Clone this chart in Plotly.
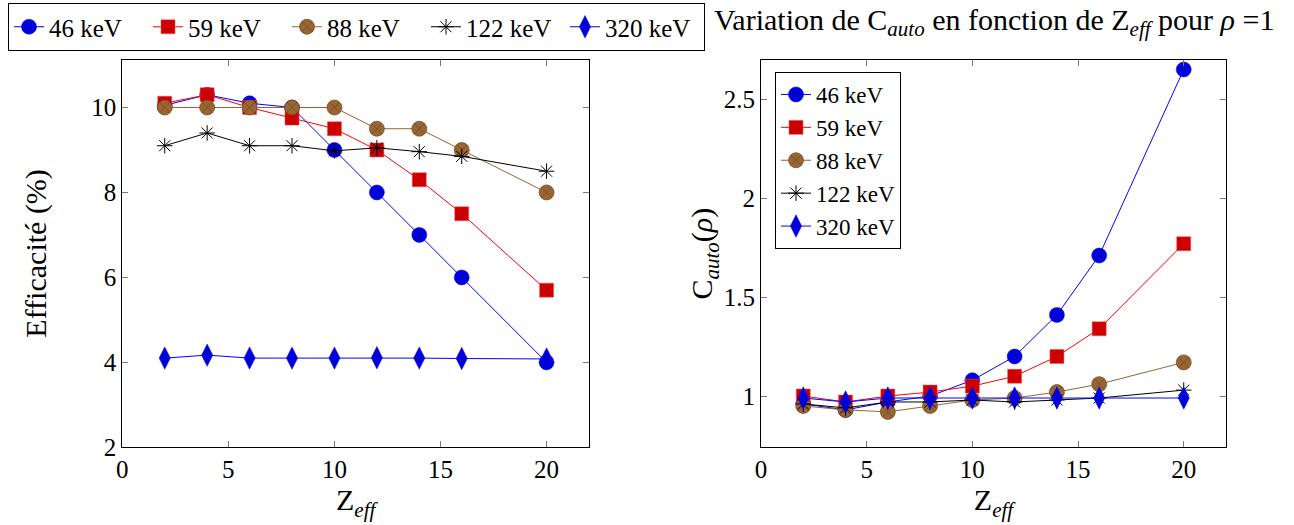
import plotly.graph_objects as go

# ---- data ----
zeff = [2, 4, 6, 8, 10, 12, 14, 16, 20]
energies = ["46 keV", "59 keV", "88 keV", "122 keV", "320 keV"]

eff_46 = [10.05, 10.3, 10.1, 10.0, 9.0, 8.0, 7.0, 6.0, 4.0]
eff_59 = [10.1, 10.3, 10.0, 9.75, 9.5, 9.0, 8.3, 7.5, 5.7]
eff_88 = [10.0, 10.0, 10.0, 10.0, 10.0, 9.5, 9.5, 9.0, 8.0]
eff_122 = [9.1, 9.4, 9.1, 9.1, 8.98, 9.05, 8.96, 8.85, 8.5]
eff_320 = [4.1, 4.17, 4.1, 4.1, 4.1, 4.11, 4.1, 4.09, 4.08]

cauto_46 = [0.96, 0.93, 0.97, 1.0, 1.08, 1.2, 1.41, 1.71, 2.65]
cauto_59 = [1.0, 0.97, 1.0, 1.02, 1.05, 1.1, 1.2, 1.34, 1.77]
cauto_88 = [0.95, 0.93, 0.92, 0.95, 0.98, 0.99, 1.02, 1.06, 1.17]
cauto_122 = [0.96, 0.94, 0.97, 0.97, 0.98, 0.97, 0.98, 0.99, 1.03]
cauto_320 = [0.99, 0.97, 0.99, 0.99, 0.99, 0.99, 0.99, 0.99, 0.99]

xticks = [0, 5, 10, 15, 20]
yticks_left = [2, 4, 6, 8, 10]
yticks_right = [1, 1.5, 2, 2.5]

FONT = "Liberation Serif"
FS = 25

styles = [
    dict(line=dict(color="rgb(0,0,255)", width=1),
         marker=dict(symbol="circle", size=15, color="rgb(0,0,215)",
                     line=dict(color="rgb(0,0,255)", width=0.5))),
    dict(line=dict(color="rgb(255,0,0)", width=1),
         marker=dict(symbol="square", size=14, color="rgb(204,0,0)",
                     line=dict(color="rgb(255,80,80)", width=0.5))),
    dict(line=dict(color="rgb(153,102,51)", width=1),
         marker=dict(symbol="circle-x", size=15, color="rgb(153,102,51)",
                     line=dict(color="rgb(110,70,30)", width=0.7))),
    dict(line=dict(color="black", width=1),
         marker=dict(symbol="asterisk-open", size=13, color="black",
                     line=dict(color="black", width=1))),
    dict(line=dict(color="rgb(0,0,255)", width=1),
         marker=dict(symbol="diamond-tall", size=16, color="rgb(0,0,215)",
                     line=dict(color="rgb(0,0,255)", width=0.5))),
]

left_series = [eff_46, eff_59, eff_88, eff_122, eff_320]
right_series = [cauto_46, cauto_59, cauto_88, cauto_122, cauto_320]

fig = go.Figure()
for name, ys, st in zip(energies, left_series, styles):
    fig.add_trace(go.Scatter(x=zeff, y=ys, mode="lines+markers", name=name,
                             xaxis="x", yaxis="y", legend="legend", **st))
for name, ys, st in zip(energies, right_series, styles):
    fig.add_trace(go.Scatter(x=zeff, y=ys, mode="lines+markers", name=name,
                             xaxis="x2", yaxis="y2", legend="legend2", **st))

W, H = 1294, 525
ax_common = dict(showgrid=False, zeroline=False, showline=True, linecolor="black",
                 linewidth=1, mirror="ticks", ticks="inside", ticklen=6,
                 tickcolor="rgb(120,120,120)", automargin=False,
                 tickfont=dict(family=FONT, size=FS, color="black"))

fig.update_layout(
    width=W, height=H,
    margin=dict(l=0, r=0, t=0, b=0),
    plot_bgcolor="white", paper_bgcolor="white",
    font=dict(family=FONT, size=FS, color="black"),
    xaxis=dict(domain=[122.3 / W, 589 / W], range=[0, 22], tickvals=xticks,
               title=dict(text="Z<sub><i>eff</i></sub>", standoff=4), anchor="y",
               **ax_common),
    yaxis=dict(domain=[1 - 447.3 / H, 1 - 59.5 / H], range=[2, 11.13], tickvals=yticks_left,
               title=dict(text="Efficacité (%)", standoff=35), anchor="x", **ax_common),
    xaxis2=dict(domain=[761 / W, 1226 / W], range=[0, 22], tickvals=xticks,
                title=dict(text="Z<sub><i>eff</i></sub>", standoff=4), anchor="y2",
                **ax_common),
    yaxis2=dict(domain=[1 - 447.3 / H, 1 - 60 / H], range=[0.741, 2.698], tickvals=yticks_right,
                title=dict(text="C<sub><i>auto</i></sub>(<i>ρ</i>)", standoff=0), anchor="x2",
                **ax_common),
    legend=dict(orientation="h", x=8 / W, y=1 - 3 / H, xanchor="left", yanchor="top",
                bordercolor="black", borderwidth=1, bgcolor="white",
                font=dict(family=FONT, size=FS), itemwidth=30,
                entrywidth=94, entrywidthmode="pixels"),
    legend2=dict(orientation="v", x=775 / W, y=1 - 72 / H, xanchor="left", yanchor="top",
                 bordercolor="black", borderwidth=1, bgcolor="white",
                 font=dict(family=FONT, size=23), itemwidth=30, tracegroupgap=0),
    annotations=[dict(text="Variation de C<sub><i>auto</i></sub> en fonction de Z<sub><i>eff</i></sub> pour <i>ρ</i> =1",
                      x=712 / W, y=1 - 22 / H, xref="paper", yref="paper",
                      xanchor="left", yanchor="middle", showarrow=False,
                      font=dict(family=FONT, size=30))],
)

fig.write_html("out.html", config={"displayModeBar": False},
               post_script="document.body.style.margin='0';")
